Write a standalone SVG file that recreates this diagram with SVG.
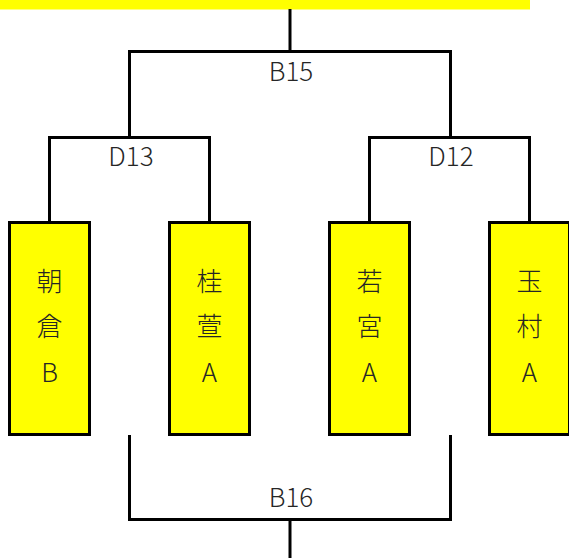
<svg xmlns="http://www.w3.org/2000/svg" width="569" height="558" viewBox="0 0 569 558">
<style>
.ln{fill:none;stroke:#000;stroke-width:3;stroke-linecap:butt;stroke-linejoin:miter}
.box{fill:#ffff00;stroke:#000;stroke-width:3}
.lbl{font-family:"Noto Sans CJK JP","Noto Sans",sans-serif;font-size:26px;font-weight:300;fill:#262626;text-anchor:middle}
</style>
<rect x="0" y="0" width="530" height="9.5" fill="#ffff00"/>
<g id="connectors">
<polyline class="ln" points="290,9 290,51.5"/>
<polyline class="ln" points="129.5,137.5 129.5,51.5 450.5,51.5 450.5,137.5"/>
<polyline class="ln" points="49.5,222 49.5,137.5 209.5,137.5 209.5,222"/>
<polyline class="ln" points="369.5,222 369.5,137.5 529.5,137.5 529.5,222"/>
<polyline class="ln" points="129.5,435 129.5,519.5 450.5,519.5 450.5,435"/>
<polyline class="ln" points="290,519.5 290,558"/>
</g>
<g id="B15"><text class="lbl" x="291" y="81">B15</text></g>
<g id="D13"><text class="lbl" x="131" y="166">D13</text></g>
<g id="D12"><text class="lbl" x="451" y="166">D12</text></g>
<g id="B16"><text class="lbl" x="291" y="507">B16</text></g>
<g id="asakura">
<rect class="box" x="9.5" y="222.5" width="80" height="212"/>
<text class="lbl" x="49.5" y="291">朝</text>
<text class="lbl" x="49.5" y="336">倉</text>
<text class="lbl" x="49.5" y="382">B</text>
</g>
<g id="keiken">
<rect class="box" x="169.5" y="222.5" width="80" height="212"/>
<text class="lbl" x="209.5" y="291">桂</text>
<text class="lbl" x="209.5" y="336">萱</text>
<text class="lbl" x="209.5" y="382">A</text>
</g>
<g id="wakamiya">
<rect class="box" x="329.5" y="222.5" width="80" height="212"/>
<text class="lbl" x="369.5" y="291">若</text>
<text class="lbl" x="369.5" y="336">宮</text>
<text class="lbl" x="369.5" y="382">A</text>
</g>
<g id="tamamura">
<rect class="box" x="489.5" y="222.5" width="80" height="212"/>
<text class="lbl" x="529.5" y="291">玉</text>
<text class="lbl" x="529.5" y="336">村</text>
<text class="lbl" x="529.5" y="382">A</text>
</g>
</svg>
